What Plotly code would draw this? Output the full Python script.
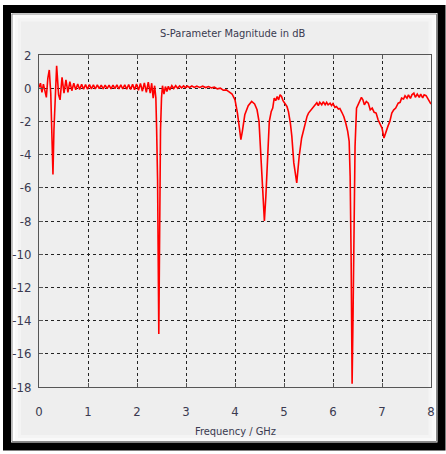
import plotly.graph_objects as go

# ---- data ----
freq_ghz = [
    0.00, 0.03, 0.06, 0.09, 0.12, 0.15, 0.18, 0.21, 0.24, 0.265, 0.285, 0.305, 0.33, 0.36,
    0.40, 0.43, 0.47, 0.51, 0.55, 0.59, 0.63, 0.67, 0.71, 0.75,
    0.79, 0.83, 0.87, 0.91, 0.95, 0.99, 1.03, 1.07, 1.11, 1.15, 1.19, 1.23, 1.27, 1.31,
    1.35, 1.39, 1.43, 1.47, 1.51, 1.55, 1.59, 1.63, 1.67, 1.71, 1.75, 1.79, 1.83, 1.87,
    1.91, 1.95, 1.99, 2.03, 2.07, 2.11, 2.15, 2.19, 2.23, 2.27,
    2.30, 2.33, 2.36, 2.385, 2.40, 2.42, 2.445, 2.465, 2.48, 2.50, 2.52, 2.55, 2.58, 2.61,
    2.64, 2.67, 2.71, 2.75, 2.79, 2.83, 2.87, 2.91, 2.95, 2.99, 3.03, 3.07, 3.12, 3.17,
    3.22, 3.28, 3.34, 3.40, 3.46, 3.52, 3.58, 3.64, 3.70, 3.76, 3.82, 3.88, 3.94,
    4.00, 4.05, 4.09, 4.12, 4.15, 4.20, 4.27, 4.34, 4.40, 4.45, 4.49, 4.53, 4.57, 4.60,
    4.63, 4.66, 4.70, 4.74, 4.77, 4.80, 4.83, 4.86, 4.89, 4.92, 4.95, 4.98, 5.02, 5.06,
    5.09, 5.13, 5.16, 5.20, 5.26, 5.31, 5.36, 5.40, 5.43, 5.47, 5.50, 5.55, 5.60, 5.64,
    5.67, 5.70, 5.73, 5.77, 5.80, 5.84, 5.87, 5.90, 5.94, 5.97, 6.00, 6.04, 6.07, 6.11,
    6.14, 6.18, 6.22, 6.26, 6.30, 6.33, 6.35, 6.37, 6.39, 6.41, 6.43, 6.45, 6.48, 6.52,
    6.55, 6.58, 6.61, 6.64, 6.68, 6.72, 6.76, 6.80, 6.84, 6.88, 6.92, 6.96, 7.00, 7.04,
    7.08, 7.12, 7.16, 7.20, 7.24, 7.28, 7.33, 7.37, 7.40, 7.44, 7.47, 7.51, 7.54, 7.58,
    7.61, 7.65, 7.68, 7.72, 7.76, 7.79, 7.83, 7.86, 7.90, 7.93, 7.97, 8.00,
]
s_db = [
    0.05, 0.30, -0.25, 0.25, -0.15, -0.55, 0.60, 1.10, -0.30, -3.0, -5.2, -2.5, -0.3, 1.35,
    -0.40, -0.70, 0.65, -0.30, 0.50, -0.25, 0.40, -0.15, 0.30, -0.10,
    0.25, -0.08, 0.24, -0.06, 0.22, -0.06, 0.22, -0.04, 0.20, -0.05, 0.20, -0.03, 0.19, -0.04,
    0.19, -0.03, 0.18, -0.04, 0.19, -0.03, 0.20, -0.05, 0.20, -0.05, 0.21, -0.06, 0.22, -0.08,
    0.24, -0.10, 0.26, -0.12, 0.28, -0.18, 0.32, -0.25, 0.36, -0.30,
    0.30, -0.60, 0.15, -0.60, -2.4, -5.5, -14.8, -5.0, -2.5, -0.6, 0.15, -0.35, 0.10, -0.20,
    0.12, -0.10, 0.15, -0.02, 0.15, 0.00, 0.14, 0.02, 0.14, 0.03, 0.13, 0.04, 0.13, 0.05,
    0.12, 0.05, 0.12, 0.04, 0.10, 0.02, 0.06, -0.04, 0.00, -0.12, -0.10, -0.22, -0.35,
    -0.70, -1.5, -2.4, -3.1, -2.6, -1.6, -1.05, -0.80, -0.95, -1.3, -2.0, -4.2, -6.5, -8.0,
    -6.5, -4.5, -2.0, -1.4, -1.2, -0.60, -0.75, -0.50, -0.70, -0.40, -0.50, -0.75, -0.90, -1.1,
    -1.4, -2.1, -2.9, -4.5, -5.7, -4.1, -3.0, -2.5, -2.2, -1.7, -1.5, -1.3, -1.1, -1.0,
    -0.88, -1.05, -0.85, -1.0, -0.82, -1.0, -0.85, -1.0, -0.90, -1.05, -0.92, -1.15, -1.1, -1.25,
    -1.22, -1.45, -1.7, -2.1, -2.6, -3.2, -5.3, -10.2, -17.8, -13.5, -7.6, -3.5, -1.2, -0.90,
    -0.75, -0.55, -0.70, -1.0, -0.80, -0.90, -1.3, -1.2, -1.45, -1.5, -1.9, -2.2, -2.4, -3.0,
    -2.6, -2.3, -2.0, -1.5, -1.3, -1.2, -0.90, -0.85, -0.60, -0.65, -0.45, -0.60, -0.40, -0.62,
    -0.40, -0.30, -0.55, -0.35, -0.55, -0.36, -0.58, -0.40, -0.45, -0.60, -0.82, -0.95,
]
x_ticks = [0, 1, 2, 3, 4, 5, 6, 7, 8]
y_ticks = [2, 0, -2, -4, -6, -8, -10, -12, -14, -16, -18]
title_text = "S-Parameter Magnitude in dB"
x_title = "Frequency / GHz"

W, H = 446, 454
L, R, T, B = 39, 15, 55, 67
PW, PH = W - L - R, H - T - B


def px(x):
    return (x - L) / PW


def py(y):
    return (H - B - y) / PH


FONT = "DejaVu Sans Condensed, Liberation Sans, Roboto, sans-serif"
TXT = "#3a3a50"

fig = go.Figure()
fig.add_trace(go.Scatter(
    x=freq_ghz, y=s_db, mode="lines",
    line=dict(color="#ff0000", width=1.6),
    showlegend=False,
))

shapes = []
# light gray panel
shapes.append(dict(type="rect", xref="paper", yref="paper", layer="below",
                   x0=px(10), x1=px(438), y0=py(12), y1=py(444),
                   fillcolor="#eeeeee", line=dict(width=0)))
# inner glow
for inset, op in [(13.5, 1.0), (16.5, 0.65), (19.5, 0.35)]:
    shapes.append(dict(type="rect", xref="paper", yref="paper", layer="below",
                       x0=px(inset), x1=px(446 - 8.5 - inset + 12), y0=py(inset + 0.5), y1=py(454 - 10 - inset + 12),
                       fillcolor="rgba(0,0,0,0)", line=dict(color=f"rgba(255,255,255,{op})", width=3)))
# thin gray line inside black frame
shapes.append(dict(type="rect", xref="paper", yref="paper", layer="below",
                   x0=px(12), x1=px(436.5), y0=py(14), y1=py(441.5),
                   fillcolor="rgba(0,0,0,0)", line=dict(color="#8a8a8a", width=1)))
# black frame
shapes.append(dict(type="rect", xref="paper", yref="paper", layer="above",
                   x0=px(7), x1=px(441.5), y0=py(9), y1=py(446.5),
                   fillcolor="rgba(0,0,0,0)", line=dict(color="#000000", width=8)))

fig.update_layout(
    width=W, height=H,
    margin=dict(l=L, r=R, t=T, b=B, pad=0),
    paper_bgcolor="#ffffff",
    plot_bgcolor="#ffffff",
    font=dict(family=FONT, size=12, color=TXT),
    shapes=shapes,
    annotations=[
        dict(text=title_text, xref="paper", yref="paper", x=px(232.5), y=py(33),
             xanchor="center", yanchor="middle", showarrow=False,
             font=dict(family=FONT, size=11, color=TXT)),
        dict(text=x_title, xref="paper", yref="paper", x=px(235), y=py(432),
             xanchor="center", yanchor="middle", showarrow=False,
             font=dict(family=FONT, size=11, color=TXT)),
    ],
)
fig.update_xaxes(
    range=[0, 8], tickvals=x_ticks, ticktext=[str(v) for v in x_ticks],
    showgrid=True, gridcolor="#222222", griddash="dot", gridwidth=1,
    zeroline=False, showline=True, linecolor="#555555", linewidth=1, mirror="ticks",
    ticks="inside", ticklen=4, tickcolor="#555555",
    tickfont=dict(family=FONT, size=13, color=TXT), ticklabelstandoff=12,
)
fig.update_yaxes(
    range=[-18, 2], tickvals=y_ticks, ticktext=[str(v) for v in y_ticks],
    showgrid=True, gridcolor="#222222", griddash="dot", gridwidth=1,
    zeroline=False, showline=True, linecolor="#555555", linewidth=1, mirror="ticks",
    ticks="inside", ticklen=4, tickcolor="#555555",
    tickfont=dict(family=FONT, size=13, color=TXT), ticklabelstandoff=4,
)

fig.write_html("out.html")
